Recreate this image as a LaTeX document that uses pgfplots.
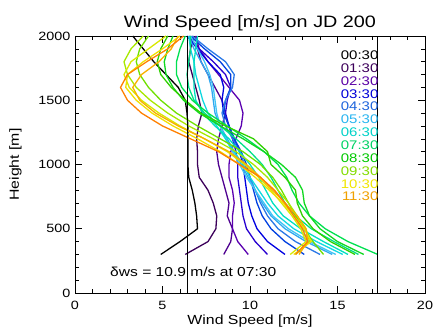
\documentclass[border=0pt]{standalone}
\usepackage{fontspec}
\setmainfont{Liberation Sans}[FakeStretch=1.2]
\usepackage{pgfplots}
\usepackage{pgfplotstable}
\pgfplotsset{compat=1.18}
\definecolor{qa}{HTML}{000000}
\definecolor{qb}{HTML}{3C005A}
\definecolor{qc}{HTML}{4E0090}
\definecolor{qd}{HTML}{5A00B0}
\definecolor{qe}{HTML}{2800D0}
\definecolor{qf}{HTML}{0000E0}
\definecolor{qg}{HTML}{0040E0}
\definecolor{qh}{HTML}{2A78E6}
\definecolor{qi}{HTML}{30A8F0}
\definecolor{qj}{HTML}{40C4F4}
\definecolor{qk}{HTML}{10D8E0}
\definecolor{ql}{HTML}{00E0C0}
\definecolor{qm}{HTML}{00E088}
\definecolor{qn}{HTML}{00E050}
\definecolor{qo}{HTML}{10D820}
\definecolor{qp}{HTML}{30D000}
\definecolor{qq}{HTML}{70E000}
\definecolor{qr}{HTML}{A8E800}
\definecolor{qs}{HTML}{D8E800}
\definecolor{qt}{HTML}{F0E000}
\definecolor{qu}{HTML}{F8B000}
\definecolor{qv}{HTML}{FF8000}
\definecolor{lg01}{HTML}{3C005A}
\definecolor{lg02}{HTML}{5A00A5}
\definecolor{lg03}{HTML}{0000D8}
\definecolor{lg04}{HTML}{1E64DC}
\definecolor{lg05}{HTML}{28B4F0}
\definecolor{lg06}{HTML}{00D2C8}
\definecolor{lg07}{HTML}{00D264}
\definecolor{lg08}{HTML}{00C800}
\definecolor{lg09}{HTML}{82DC00}
\definecolor{lg10}{HTML}{F0E600}
\definecolor{lg11}{HTML}{F0A000}
\pgfplotstableread{
h a b c d e f g hh i j k l m n o p q r s t u v
300 4.9 6.3 8.5 9.9 11.0 12.0 13.1 14.0 14.7 14.9 15.3 15.6 16.2 17.3 16.5 16.0 14.2 12.6 12.3 12.5 12.8 12.6
400 6.0 7.6 8.9 9.3 10.3 11.0 12.0 12.6 13.2 13.4 13.8 14.2 14.8 15.6 15.0 14.6 13.6 13.4 13.2 13.5 13.3 13.3
500 7.0 8.05 9.0 9.0 9.8 10.4 11.2 11.6 12.0 12.2 12.5 12.9 13.5 14.3 14.0 13.6 13.1 13.2 12.9 13.1 13.2 13.0
600 6.95 8.1 8.7 9.0 9.6 10.1 10.7 11.0 11.2 11.3 11.6 11.9 12.6 13.4 13.4 13.0 12.6 12.7 12.4 12.5 12.7 12.5
700 6.85 7.9 8.8 9.1 9.5 9.9 10.4 10.6 10.7 10.8 11.0 11.3 12.0 12.8 13.1 12.7 12.2 12.2 11.8 11.9 12.0 12.0
800 6.7 7.6 8.6 9.0 9.4 9.8 10.2 10.3 10.3 10.3 10.5 10.9 11.6 12.4 13.0 12.6 11.8 11.6 11.2 11.1 11.3 11.4
900 6.5 7.1 8.4 8.8 9.3 9.7 10.0 10.0 9.9 9.8 10.0 10.5 11.2 12.1 12.6 12.0 11.3 11.0 10.5 10.3 10.6 10.6
1000 6.45 7.0 8.2 8.8 9.3 9.6 9.8 9.7 9.5 9.4 9.6 10.0 10.7 11.6 11.8 11.2 10.6 10.2 9.7 9.4 9.8 9.4
1100 6.45 7.0 8.1 8.9 9.2 9.4 9.5 9.4 9.1 9.0 9.1 9.4 10.0 10.8 10.8 11.0 9.6 9.2 8.7 8.3 8.8 8.2
1200 6.45 6.95 8.2 9.2 9.0 9.1 9.1 9.0 8.7 8.6 8.6 8.8 9.2 9.8 9.6 10.2 8.3 7.9 7.4 7.0 7.4 6.6
1300 6.45 7.05 8.4 9.5 8.8 8.8 8.8 8.6 8.3 8.3 8.1 8.0 8.3 8.7 8.3 8.6 7.0 6.5 6.0 5.6 5.9 5.0
1400 6.4 7.25 8.6 9.6 8.6 8.5 8.5 8.4 8.0 8.1 7.6 7.3 7.4 7.6 7.1 7.2 5.8 5.3 4.8 4.4 4.6 3.8
1500 6.3 7.1 8.4 9.4 8.7 8.4 8.6 8.6 7.9 8.0 7.3 6.9 6.8 6.7 6.2 6.3 4.9 4.3 3.8 3.5 3.7 3.0
1600 5.9 6.9 8.0 8.8 8.9 8.5 8.9 9.0 7.8 7.9 7.1 6.8 6.5 6.1 5.6 5.5 4.2 3.5 3.1 2.9 3.3 2.6
1700 5.2 6.7 7.6 8.2 8.6 8.3 8.9 9.1 7.6 7.7 6.9 6.8 6.4 5.8 5.2 4.9 3.7 3.0 2.8 3.0 3.8 3.0
1800 4.5 6.5 7.2 7.6 7.9 7.6 8.3 8.6 7.2 7.4 6.8 6.8 6.5 5.8 5.1 4.7 3.5 2.8 3.2 3.9 4.8 4.1
1900 3.9 6.6 7.0 7.1 7.1 7.0 7.4 7.6 6.8 7.0 6.6 6.9 6.6 6.0 5.3 4.9 3.7 3.2 4.2 5.0 5.5 5.3
2000 3.3 6.8 6.9 6.9 6.5 6.4 6.6 6.7 6.5 6.6 6.5 7.0 6.6 6.3 5.6 5.3 4.2 3.9 5.2 6.0 5.9 6.2
}\prof
\begin{document}
\begin{tikzpicture}
\begin{axis}[
  at={(0,0)}, anchor=south west,
  scale only axis, width=350pt, height=257pt,
  xmin=0, xmax=20, ymin=0, ymax=2000,
  xtick={0,5,10,15,20}, ytick={0,500,1000,1500,2000},
  minor x tick num=4, minor y tick num=4,
  tick align=inside, major tick length=7pt, minor tick length=4pt,
  xtick pos=both, ytick pos=both,
  axis line style={line width=0.6pt}, tick style={line width=0.6pt, black},
  /pgf/number format/assume math mode=true,
  yticklabel style={/pgf/number format/1000 sep={}, xshift=-1pt},
  ticklabel style={font=\fontsize{12}{12}\selectfont},
  xticklabel style={yshift=-5pt},
  title={Wind Speed [m/s] on JD 200},
  title style={font=\fontsize{16.5}{16.5}\selectfont, yshift=-4pt},
  xlabel={Wind Speed [m/s]}, ylabel={Height [m]},
  label style={font=\fontsize{13.2}{13.2}\selectfont},
  xlabel style={yshift=1.5pt},
  ylabel style={yshift=10pt},
  every axis plot/.append style={line width=1.3pt, line join=round},
  clip=true,
]
\addplot[color=qa] table[x=a,y=h]{\prof};
\addplot[color=qb] table[x=b,y=h]{\prof};
\addplot[color=qc] table[x=c,y=h]{\prof};
\addplot[color=qd] table[x=d,y=h]{\prof};
\addplot[color=qe] table[x=e,y=h]{\prof};
\addplot[color=qf] table[x=f,y=h]{\prof};
\addplot[color=qg] table[x=g,y=h]{\prof};
\addplot[color=qh] table[x=hh,y=h]{\prof};
\addplot[color=qi] table[x=i,y=h]{\prof};
\addplot[color=qj] table[x=j,y=h]{\prof};
\addplot[color=qk] table[x=k,y=h]{\prof};
\addplot[color=ql] table[x=l,y=h]{\prof};
\addplot[color=qm] table[x=m,y=h]{\prof};
\addplot[color=qn] table[x=n,y=h]{\prof};
\addplot[color=qo] table[x=o,y=h]{\prof};
\addplot[color=qp] table[x=p,y=h]{\prof};
\addplot[color=qq] table[x=q,y=h]{\prof};
\addplot[color=qr] table[x=r,y=h]{\prof};
\addplot[color=qs] table[x=s,y=h]{\prof};
\addplot[color=qt] table[x=t,y=h]{\prof};
\addplot[color=qu] table[x=u,y=h]{\prof};
\addplot[color=qv] table[x=v,y=h]{\prof};
\addplot[black, line width=0.7pt] coordinates {(6.4,0) (6.4,2000)};
\addplot[black, line width=0.7pt] coordinates {(17.3,0) (17.3,2000)};
\begin{scope}[every node/.style={anchor=east, inner sep=0pt, font=\fontsize{12.5}{12.5}\selectfont}]
\node[text=black] at (axis cs:17.35,1850) {00:30};
\node[text=lg01] at (axis cs:17.35,1750) {01:30};
\node[text=lg02] at (axis cs:17.35,1650) {02:30};
\node[text=lg03] at (axis cs:17.35,1550) {03:30};
\node[text=lg04] at (axis cs:17.35,1450) {04:30};
\node[text=lg05] at (axis cs:17.35,1350) {05:30};
\node[text=lg06] at (axis cs:17.35,1250) {06:30};
\node[text=lg07] at (axis cs:17.35,1150) {07:30};
\node[text=lg08] at (axis cs:17.35,1050) {08:30};
\node[text=lg09] at (axis cs:17.35,950) {09:30};
\node[text=lg10] at (axis cs:17.35,850) {10:30};
\node[text=lg11] at (axis cs:17.35,750) {11:30};
\end{scope}
\node[anchor=west, inner sep=0pt, font=\fontsize{13}{13}\selectfont] at (axis cs:2.0,165) {δws = 10.9 m/s at 07:30};
\end{axis}
\pgfresetboundingbox
\path (-75pt,-39pt) rectangle (360pt,293pt);
\end{tikzpicture}
\end{document}
